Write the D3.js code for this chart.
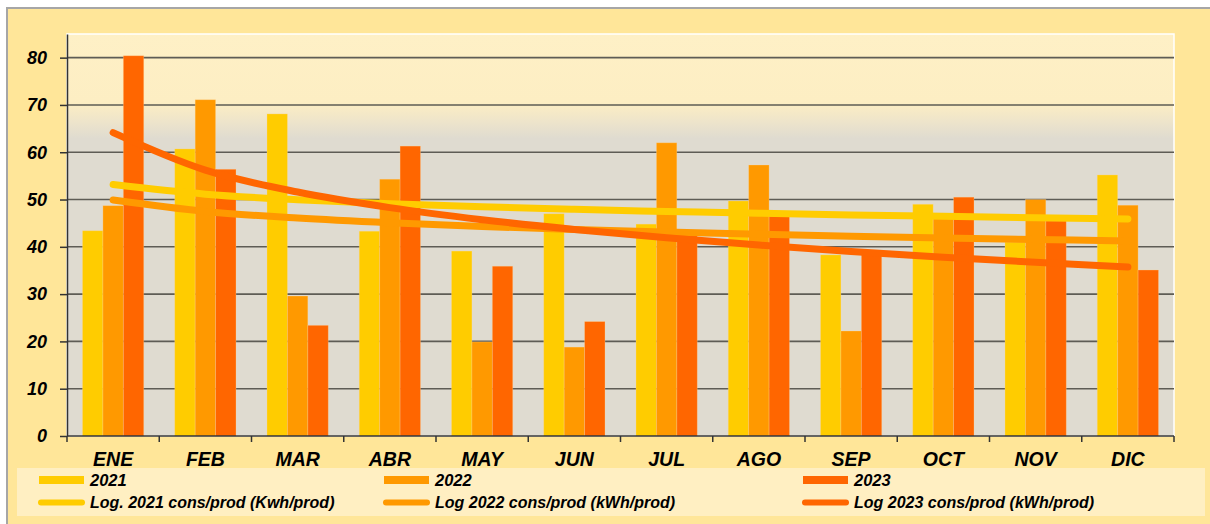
<html>
  <head>
    <script src="https://d3js.org/d3.v7.min.js"></script>
    <style>
      body { margin: 0; background: #ffffff; }
      text { font-family: "Liberation Sans", Arial, sans-serif; font-weight: bold; font-style: italic; fill: #000; }
    </style>
  </head>
  <body>
    <div id="dataviz"></div>
    <script>
      // values
      var months = ["ENE", "FEB", "MAR", "ABR", "MAY", "JUN", "JUL", "AGO", "SEP", "OCT", "NOV", "DIC"];
      var years = ["2021", "2022", "2023"];
      var v2021 = [43.4, 60.7, 68.1, 43.3, 39.1, 47.0, 44.8, 49.7, 38.3, 49.0, 41.0, 55.2];
      var v2022 = [48.7, 71.1, 29.6, 54.3, 19.9, 18.8, 62.0, 57.3, 22.2, 46.5, 50.0, 48.8];
      var v2023 = [80.4, 56.4, 23.4, 61.3, 35.9, 24.2, 43.0, 46.5, 39.0, 50.5, 45.5, 35.1];
      var yTicks = [0, 10, 20, 30, 40, 50, 60, 70, 80];
      var barLabels = ["2021", "2022", "2023"];
      var trendLabels = ["Log. 2021 cons/prod (Kwh/prod)", "Log 2022 cons/prod (kWh/prod)", "Log 2023 cons/prod (kWh/prod)"];
      var colors = ["#FFCC00", "#FF9900", "#FF6600"];

      var series = [v2021, v2022, v2023];

      var W = 1210, H = 524;
      var plot = {left: 67, right: 1174, top: 34, bottom: 436};

      var svg = d3.select("#dataviz")
        .append("svg")
          .attr("width", W)
          .attr("height", H);

      var defs = svg.append("defs");
      var grad = defs.append("linearGradient")
        .attr("id", "plotbg")
        .attr("x1", 0).attr("y1", 0).attr("x2", 0).attr("y2", 1);
      grad.append("stop").attr("offset", "0%").attr("stop-color", "#FEF0C6");
      grad.append("stop").attr("offset", "17%").attr("stop-color", "#FDEEC3");
      grad.append("stop").attr("offset", "22%").attr("stop-color", "#EDE4CB");
      grad.append("stop").attr("offset", "26%").attr("stop-color", "#DFDBD0");
      grad.append("stop").attr("offset", "100%").attr("stop-color", "#DFDBD0");

      // outer frame
      svg.append("rect")
        .attr("x", 7).attr("y", 8).attr("width", W).attr("height", H)
        .attr("fill", "#FFE699")
        .attr("stroke", "#A6A6A6")
        .attr("stroke-width", 2);

      // plot area
      svg.append("rect")
        .attr("x", plot.left).attr("y", plot.top)
        .attr("width", plot.right - plot.left)
        .attr("height", plot.bottom - plot.top)
        .attr("fill", "url(#plotbg)")
        .attr("stroke", "#ffffff")
        .attr("stroke-width", 1.5);

      var x = d3.scaleBand()
        .domain(months)
        .range([plot.left, plot.right])
        .paddingInner(0.336)
        .paddingOuter(0.168);

      var xs = d3.scaleBand()
        .domain(years)
        .range([0, x.bandwidth()]);

      var y = d3.scaleLinear()
        .domain([0, 85])
        .range([plot.bottom, plot.top]);

      // gridlines
      svg.append("g")
        .selectAll("line")
        .data(yTicks.slice(1))
        .enter().append("line")
          .attr("x1", plot.left).attr("x2", plot.right)
          .attr("y1", function(d) { return y(d); })
          .attr("y2", function(d) { return y(d); })
          .attr("stroke", "#5E5C55")
          .attr("stroke-width", 1.6);

      // bars
      years.forEach(function(yr, si) {
        svg.append("g")
          .selectAll("rect")
          .data(series[si])
          .enter().append("rect")
            .attr("x", function(d, i) { return x(months[i]) + xs(yr); })
            .attr("y", function(d) { return y(d); })
            .attr("width", xs.bandwidth())
            .attr("height", function(d) { return y(0) - y(d); })
            .attr("fill", colors[si])
            .attr("stroke", "#FFD9A0")
            .attr("stroke-opacity", 0.35)
            .attr("stroke-width", 0.8);
      });

      // log trend lines (least squares on ln(month index))
      function logFit(vals) {
        var n = vals.length, sx = 0, sy = 0, sxx = 0, sxy = 0;
        vals.forEach(function(v, i) {
          var l = Math.log(i + 1);
          sx += l; sy += v; sxx += l * l; sxy += l * v;
        });
        var a = (n * sxy - sx * sy) / (n * sxx - sx * sx);
        var b = (sy - a * sx) / n;
        return vals.map(function(v, i) { return a * Math.log(i + 1) + b; });
      }

      var trendLine = d3.line()
        .x(function(d, i) { return x(months[i]) + x.bandwidth() / 2; })
        .y(function(d) { return y(d); })
        .curve(d3.curveCatmullRom);

      series.forEach(function(s, si) {
        svg.append("path")
          .datum(logFit(s))
          .attr("fill", "none")
          .attr("stroke", colors[si])
          .attr("stroke-width", 7)
          .attr("stroke-linecap", "round")
          .attr("d", trendLine);
      });

      // y axis
      var yAxis = svg.append("g")
        .attr("transform", "translate(" + plot.left + ",0)")
        .call(d3.axisLeft(y).tickValues(yTicks).tickSize(7).tickPadding(13).tickSizeOuter(0));
      yAxis.select(".domain").attr("stroke", "#333").attr("stroke-width", 1.5);
      yAxis.selectAll(".tick line").attr("stroke", "#333").attr("stroke-width", 1.5);
      yAxis.selectAll(".tick text")
        .attr("font-size", 18)
        .attr("font-family", null);

      // x axis
      svg.append("line")
        .attr("x1", plot.left).attr("x2", plot.right)
        .attr("y1", plot.bottom).attr("y2", plot.bottom)
        .attr("stroke", "#333").attr("stroke-width", 1.5);
      svg.append("g")
        .selectAll("line")
        .data(d3.range(months.length + 1))
        .enter().append("line")
          .attr("x1", function(i) { return plot.left + i * x.step(); })
          .attr("x2", function(i) { return plot.left + i * x.step(); })
          .attr("y1", plot.bottom).attr("y2", plot.bottom + 6)
          .attr("stroke", "#333").attr("stroke-width", 1.5);
      svg.append("g")
        .selectAll("text")
        .data(months)
        .enter().append("text")
          .attr("x", function(d) { return x(d) + x.bandwidth() / 2; })
          .attr("y", 466)
          .attr("text-anchor", "middle")
          .attr("font-size", 19.5)
          .text(function(d) { return d; });

      // legend
      svg.append("rect")
        .attr("x", 17).attr("y", 468)
        .attr("width", 1188).attr("height", 48)
        .attr("fill", "#FFEFC2");

      var legendX = [39, 384, 803];
      barLabels.forEach(function(lbl, i) {
        var g = svg.append("g");
        g.append("rect")
          .attr("x", legendX[i]).attr("y", 476)
          .attr("width", 45).attr("height", 8)
          .attr("fill", colors[i]);
        g.append("text")
          .attr("x", legendX[i] + 51).attr("y", 486)
          .attr("font-size", 16.5)
          .text(lbl);
        g.append("line")
          .attr("x1", legendX[i] + 2).attr("x2", legendX[i] + 43)
          .attr("y1", 502.5).attr("y2", 502.5)
          .attr("stroke", colors[i])
          .attr("stroke-width", 6)
          .attr("stroke-linecap", "round");
        g.append("text")
          .attr("x", legendX[i] + 51).attr("y", 508)
          .attr("font-size", 16)
          .text(trendLabels[i]);
      });
    </script>
  </body>
</html>
